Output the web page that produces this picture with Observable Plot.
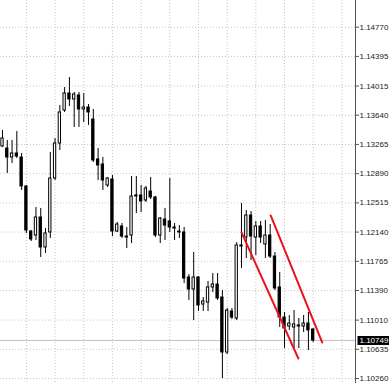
<!DOCTYPE html>
<html>
<head>
<meta charset="utf-8">
<script src="https://cdn.jsdelivr.net/npm/d3@7"></script>
<script src="https://cdn.jsdelivr.net/npm/@observablehq/plot@0.6"></script>
<style>
  html, body { margin: 0; padding: 0; background: #ffffff; }
  #chart svg { display: block; }
</style>
</head>
<body>
<div id="chart"></div>
<script>
// Candle data (bar index order, oldest -> newest), prices
const opens  = [1.13239,1.13213,1.13097,1.13149,1.13097,1.12725,1.12147,1.12096,1.12327,1.11942,
                1.12135,1.12828,1.13277,1.13701,1.13919,1.13842,1.13893,1.13714,1.13739,1.13585,
                1.13072,1.13007,1.12738,1.12815,1.12147,1.12212,1.12083,1.12096,1.12610,1.12610,
                1.12545,1.12661,1.12584,1.12096,1.12301,1.12276,1.12199,1.12147,1.12135,1.11557,
                1.11403,1.11557,1.11210,1.11236,1.11429,1.11467,1.11300,1.10594,1.11120,1.11031,
                1.11968,1.12070,1.12353,1.12070,1.12212,1.11981,1.12096,1.11826,1.11429,1.11043,
                1.10928,1.10915,1.10941,1.10928,1.10966,1.10889];
const highs  = [1.13444,1.13316,1.13316,1.13431,1.13149,1.12738,1.12160,1.12455,1.12443,1.12186,
                1.13162,1.13341,1.13765,1.13996,1.14124,1.13932,1.13932,1.13919,1.13778,1.13714,
                1.13213,1.13097,1.12841,1.12866,1.12263,1.12250,1.12199,1.12853,1.12853,1.12738,
                1.12725,1.12841,1.12597,1.12327,1.12443,1.12828,1.12250,1.12224,1.12199,1.11595,
                1.11878,1.11570,1.11300,1.11506,1.11608,1.11608,1.11390,1.11159,1.11159,1.12006,
                1.12507,1.12417,1.12404,1.12276,1.12276,1.12289,1.12237,1.11878,1.11621,1.11108,
                1.11069,1.11133,1.11031,1.11069,1.11108,1.10902];
const lows   = [1.13226,1.12892,1.13020,1.13085,1.12674,1.12122,1.12019,1.12032,1.11814,1.11865,
                1.12058,1.12802,1.13187,1.13675,1.13752,1.13482,1.13482,1.13547,1.13508,1.13033,
                1.12802,1.12674,1.12712,1.12083,1.12135,1.12058,1.11929,1.11993,1.12378,1.12391,
                1.12520,1.12558,1.12070,1.11993,1.12032,1.12135,1.12032,1.12058,1.11480,1.11262,
                1.11005,1.11120,1.11120,1.11120,1.11364,1.11262,1.10260,1.10568,1.11018,1.11005,
                1.11672,1.11801,1.11775,1.11839,1.11993,1.11801,1.11801,1.11390,1.10915,1.10645,
                1.10877,1.10645,1.10645,1.10851,1.10620,1.10722];
const closes = [1.13341,1.13097,1.13149,1.13110,1.12725,1.12160,1.12045,1.12327,1.11942,1.12122,
                1.12828,1.13277,1.13675,1.13919,1.13842,1.13906,1.13714,1.13739,1.13675,1.13059,
                1.12995,1.12802,1.12828,1.12147,1.12237,1.12083,1.12070,1.12597,1.12597,1.12533,
                1.12699,1.12584,1.12096,1.12314,1.12224,1.12199,1.12186,1.12135,1.11544,1.11403,
                1.11557,1.11197,1.11249,1.11429,1.11467,1.11287,1.10594,1.11133,1.11043,1.11968,
                1.11955,1.12353,1.12083,1.12212,1.12070,1.12096,1.11826,1.11416,1.11043,1.10902,
                1.10966,1.10954,1.10928,1.10966,1.10877,1.10749];

// Price-axis tick labels
const priceTicks = [1.14770,1.14395,1.14015,1.13640,1.13265,1.12890,1.12515,1.12140,1.11765,1.11390,1.11010,1.10635,1.10260];
// Vertical grid every 6 bars
const gridBars = [5,11,17,23,29,35,41,47,53,59,65,71];

// Red trend channel lines (bar index, price)
const trendLowerBars = [50, 61.9];
const trendLowerPrices = [1.12135, 1.10517];
const trendUpperBars = [56.1, 66.9];
const trendUpperPrices = [1.12353, 1.10722];

const lastPrice = closes[closes.length - 1];
const lastLabel = lastPrice.toFixed(5);

const candles = opens.map((o, i) => ({
  i, open: o, high: highs[i], low: lows[i], close: closes[i], up: closes[i] > o
}));
const trendLower = trendLowerBars.map((b, k) => ({i: b, p: trendLowerPrices[k]}));
const trendUpper = trendUpperBars.map((b, k) => ({i: b, p: trendUpperPrices[k]}));

const half = 0.24;
const gridStyle = {stroke: "#c4c4c4", strokeOpacity: 1, strokeDasharray: "1,2"};

const chart = Plot.plot({
  width: 389,
  height: 383,
  marginLeft: 0,
  marginRight: 34,
  marginTop: 0,
  marginBottom: 0,
  style: {background: "#ffffff", fontFamily: "'Liberation Sans', Arial, sans-serif"},
  x: {type: "linear", domain: [-0.418, 73.85], axis: null},
  y: {domain: [1.101961, 1.151127], axis: null},
  marks: [
    Plot.gridY(priceTicks, gridStyle),
    Plot.gridX(gridBars, gridStyle),
    Plot.ruleY([lastPrice], {stroke: "#c0c0c0", strokeWidth: 1}),
    Plot.ruleX(candles, {x: "i", y1: "low", y2: "high", stroke: "#000", strokeWidth: 1}),
    Plot.rect(candles, {
      x1: d => d.i - half, x2: d => d.i + half,
      y1: d => Math.min(d.open, d.close), y2: d => Math.max(d.open, d.close),
      fill: d => d.up ? "#ffffff" : "#000000",
      stroke: "#000", strokeWidth: 1
    }),
    Plot.line(trendLower, {x: "i", y: "p", stroke: "#e8141c", strokeWidth: 2}),
    Plot.line(trendUpper, {x: "i", y: "p", stroke: "#e8141c", strokeWidth: 2}),
    Plot.frame({anchor: "right", stroke: "#555"}),
    Plot.axisY(priceTicks, {
      anchor: "right", tickSize: 3, tickPadding: 1, fontSize: 8,
      tickFormat: d => d.toFixed(5), color: "#222", stroke: "#555"
    }),
    Plot.text([lastPrice], {
      y: d => d, frameAnchor: "right", textAnchor: "start", dx: 4,
      text: () => lastLabel, fill: "#ffffff", fontSize: 8
    })
  ]
});

document.getElementById("chart").appendChild(chart);

// Black background box behind the last-price label
const svgBox = chart.getBoundingClientRect();
d3.select(chart).selectAll("text")
  .filter(function() { return this.textContent === lastLabel; })
  .each(function() {
    const r = this.getBoundingClientRect();
    let g = this;
    while (g.parentNode && g.parentNode !== chart) g = g.parentNode;
    const x0 = r.left - svgBox.left - 2;
    d3.select(chart).insert("rect", () => g)
      .attr("x", x0)
      .attr("y", r.top - svgBox.top)
      .attr("width", 389 - x0)
      .attr("height", r.height)
      .attr("fill", "#000");
  });
</script>
</body>
</html>
